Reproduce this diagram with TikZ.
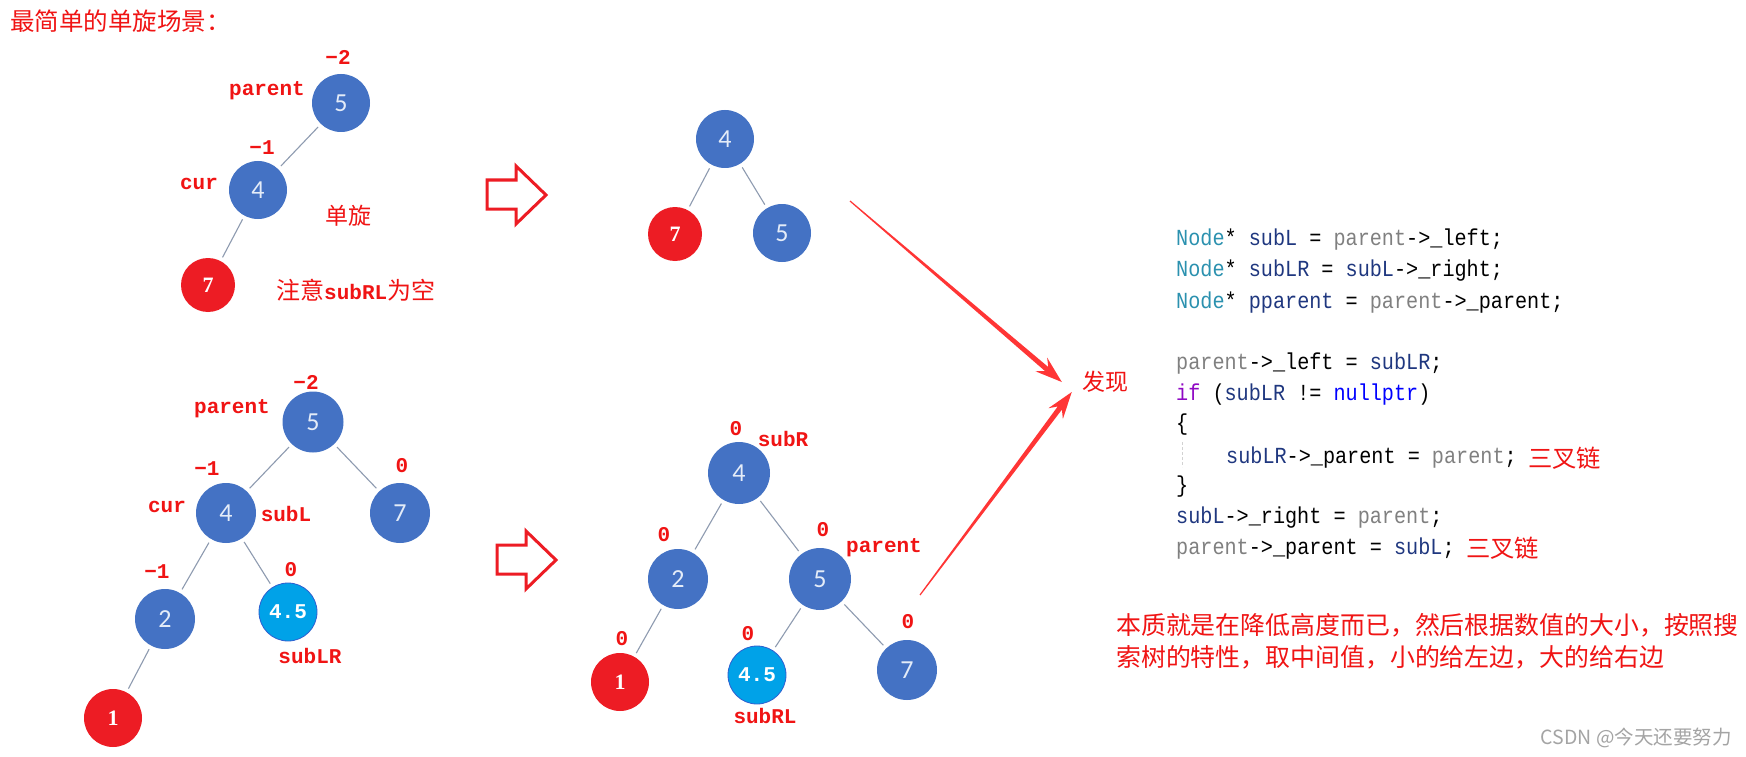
\documentclass[tikz,border=0pt]{standalone}
\usepackage{fontspec}
\usetikzlibrary{calc}
\newfontfamily\cjk{Noto Sans CJK SC}
\newfontfamily\labfont{Liberation Mono}
\newfontfamily\codefont[FakeStretch=0.877]{Liberation Mono}
\newfontfamily\numfont{Carlito}
\newfontfamily\rnumfont{Liberation Serif}
\newcommand\fsz[1]{\fontsize{#1}{#1}\selectfont}
\definecolor{nodeblue}{HTML}{4472C4}
\definecolor{nodered}{HTML}{ED1C24}
\definecolor{nodecyan}{HTML}{00A2E8}
\definecolor{cyanedge}{HTML}{2F5FD0}
\definecolor{numwhite}{HTML}{E4ECF8}
\definecolor{edgegray}{HTML}{8E9BB0}
\definecolor{labred}{HTML}{F01414}
\definecolor{arrowred}{HTML}{FF3535}
\definecolor{ctype}{HTML}{2B91AF}
\definecolor{cvar}{HTML}{1F377F}
\definecolor{cparm}{HTML}{808080}
\definecolor{ckw}{HTML}{8F08C4}
\definecolor{cnull}{HTML}{0000FF}
\definecolor{wmgray}{HTML}{A4A4A4}
\newcommand\codetype[1]{\textcolor{ctype}{#1}}
\newcommand\codevar[1]{\textcolor{cvar}{#1}}
\newcommand\codeparm[1]{\textcolor{cparm}{#1}}
\newcommand\codekw[1]{\textcolor{ckw}{#1}}
\newcommand\codenull[1]{\textcolor{cnull}{#1}}
\newcommand\taperarrow[2]{%
  \coordinate (tH) at ($(#2)!20pt!(#1)$);
  \coordinate (tB) at ($(#2)!27pt!(#1)$);
  \fill[arrowred] ($(#1)!0.6pt!90:(#2)$) -- ($(tH)!2.6pt!90:(#2)$) -- ($(tB)!9pt!90:(#2)$) -- (#2)
    -- ($(tB)!9pt!-90:(#2)$) -- ($(tH)!2.6pt!-90:(#2)$) -- ($(#1)!0.6pt!-90:(#2)$) -- cycle;}
\tikzset{
  bnode/.style={circle, fill=nodeblue, minimum size=60pt, inner sep=0pt, text=numwhite, font=\numfont\fsz{26}},
  rnode/.style={circle, fill=nodered, minimum size=57pt, inner sep=0pt, text=white, font=\rnumfont\bfseries\fsz{22}},
  cnode/.style={circle, fill=nodecyan, draw=cyanedge, line width=0.8pt, minimum size=58pt, inner sep=0pt, text=white, font=\labfont\bfseries\fsz{21}},
  treeedge/.style={draw=edgegray, line width=1.1pt, shorten <=4pt, shorten >=4pt},
  lab/.style={text=labred, font=\labfont\bfseries\fsz{21}, inner sep=0pt},
  cjklab/.style={text=labred, font=\cjk\fsz{23}, inner sep=0pt},
  codeline/.style={anchor=base west, inner sep=0pt, font=\codefont\fsz{23}},
  hollow/.style={draw=nodered, line width=3pt, fill=white, miter limit=10},
}
\begin{document}
\begin{tikzpicture}[x=1pt,y=-1pt]
\useasboundingbox (0,0) rectangle (1746,757);
\fill[white] (0,0) rectangle (1746,757);

% title
\node[cjklab, font=\cjk\fsz{24.5}, anchor=west] (title) at (10,21) {最简单的单旋场景：};

% top-left tree
\node[bnode, minimum size=58pt] (ta5) at (341,103) {5};
\node[bnode, minimum size=58pt] (ta4) at (258,190) {4};
\node[rnode, minimum size=54pt] (ta7) at (208,285) {7};
\draw[treeedge] (ta5) -- (ta4);
\draw[treeedge] (ta4) -- (ta7);
\node[lab] (la1) at (338,57) {−2};
\node[lab] (la2) at (267,91) {parent};
\node[lab] (la3) at (262,148) {−1};
\node[lab] (la4) at (199,184) {cur};
\node[cjklab] (la5) at (348,216) {单旋};
\node[lab, anchor=west] (la6) at (276,290) {{\cjk\mdseries\fsz{24}注意}subRL{\cjk\mdseries\fsz{24}为空}};

% hollow arrows
\draw[hollow] (487,180) -- (516,180) -- (516,166) -- (546,195) -- (516,224) -- (516,209) -- (487,209) -- cycle;
\draw[hollow] (497,545) -- (526,545) -- (526,531) -- (556,560) -- (526,589) -- (526,574) -- (497,574) -- cycle;

% top-right tree
\node[bnode, minimum size=58pt] (tb4) at (725,139) {4};
\node[rnode, minimum size=54pt] (tb7) at (675,234) {7};
\node[bnode, minimum size=58pt] (tb5) at (782,233) {5};
\draw[treeedge] (tb4) -- (tb7);
\draw[treeedge] (tb4) -- (tb5);

% bottom-left tree
\node[bnode, minimum size=61pt] (ba5) at (313,422) {5};
\node[bnode] (ba4) at (226,513) {4};
\node[bnode] (ba7) at (400,513) {7};
\node[bnode] (ba2) at (165,619) {2};
\node[cnode] (ba45) at (288,612) {4.5};
\node[rnode, minimum size=58pt] (ba1) at (113,718) {1};
\draw[treeedge] (ba5) -- (ba4);
\draw[treeedge] (ba5) -- (ba7);
\draw[treeedge] (ba4) -- (ba2);
\draw[treeedge] (ba4) -- (ba45);
\draw[treeedge] (ba2) -- (ba1);
\node[lab] (lb1) at (306,382) {−2};
\node[lab] (lb2) at (232,409) {parent};
\node[lab] (lb3) at (207,469) {−1};
\node[lab] (lb4) at (167,507) {cur};
\node[lab] (lb5) at (286,514) {subL};
\node[lab] (lb6) at (402,466) {0};
\node[lab] (lb7) at (157,572) {−1};
\node[lab] (lb8) at (291,570) {0};
\node[lab] (lb9) at (310,656) {subLR};

% bottom-middle tree
\node[bnode, minimum size=62pt] (bb4) at (739,473) {4};
\node[bnode] (bb2) at (678,579) {2};
\node[bnode, minimum size=62pt] (bb5) at (820,579) {5};
\node[rnode, minimum size=58pt] (bb1) at (620,682) {1};
\node[cnode] (bb45) at (757,675) {4.5};
\node[bnode] (bb7) at (907,670) {7};
\draw[treeedge] (bb4) -- (bb2);
\draw[treeedge] (bb4) -- (bb5);
\draw[treeedge] (bb2) -- (bb1);
\draw[treeedge] (bb5) -- (bb45);
\draw[treeedge] (bb5) -- (bb7);
\node[lab] (lc1) at (736,429) {0};
\node[lab] (lc2) at (783,439) {subR};
\node[lab] (lc3) at (664,535) {0};
\node[lab] (lc4) at (823,530) {0};
\node[lab] (lc5) at (884,548) {parent};
\node[lab] (lc6) at (622,639) {0};
\node[lab] (lc7) at (748,634) {0};
\node[lab] (lc8) at (765,716) {subRL};
\node[lab] (lc9) at (908,622) {0};

% found + tapered arrows
\node[cjklab] (found) at (1105,382) {发现};
\coordinate (ar1s) at (850,201);
\coordinate (ar1t) at ($(found.west)+(-20,0)$);
\coordinate (ar2s) at (920,595);
\coordinate (ar2t) at ($(found.west)+(-10,10)$);
\taperarrow{ar1s}{ar1t}
\taperarrow{ar2s}{ar2t}

% code
\node[codeline] (c1) at (1176,245) {\codetype{Node}* \codevar{subL} = \codeparm{parent}->\_left;};
\node[codeline] (c2) at (1176,276.5) {\codetype{Node}* \codevar{subLR} = \codevar{subL}->\_right;};
\node[codeline] (c3) at (1176,308) {\codetype{Node}* \codevar{pparent} = \codeparm{parent}->\_parent;};
\node[codeline] (c5) at (1176,369.5) {\codeparm{parent}->\_left = \codevar{subLR};};
\node[codeline] (c6) at (1176,400) {\codekw{if} (\codevar{subLR} != \codenull{nullptr})};
\node[codeline] (c7) at (1176,430.5) {\{};
\node[codeline] (c8) at (1226,463) {\codevar{subLR}->\_parent = \codeparm{parent};};
\node[codeline] (c9) at (1176,492.5) {\}};
\node[codeline] (c10) at (1176,523) {\codevar{subL}->\_right = \codeparm{parent};};
\node[codeline] (c11) at (1176,554) {\codeparm{parent}->\_parent = \codevar{subL};};
\draw[gray!35, densely dashed, line width=0.8pt] (1182,442) -- (1182,467);
\node[text=labred, font=\cjk\fsz{24.3}, inner sep=0pt, anchor=west] (r1) at (1528,458) {三叉链};
\node[text=labred, font=\cjk\fsz{24.3}, inner sep=0pt, anchor=west] (r2) at (1466,548) {三叉链};

% explanation
\node[text=labred, font=\cjk\fsz{24.9}, inner sep=0pt, anchor=west] (ex1) at (1116,625) {本质就是在降低高度而已，然后根据数值的大小，按照搜};
\node[text=labred, font=\cjk\fsz{24.9}, inner sep=0pt, anchor=west] (ex2) at (1116,657) {索树的特性，取中间值，小的给左边，大的给右边};

% watermark
\node[text=wmgray, font=\cjk\fsz{19.5}, inner sep=0pt, anchor=east] (wm) at (1732,738) {CSDN @今天还要努力};
\end{tikzpicture}
\end{document}
